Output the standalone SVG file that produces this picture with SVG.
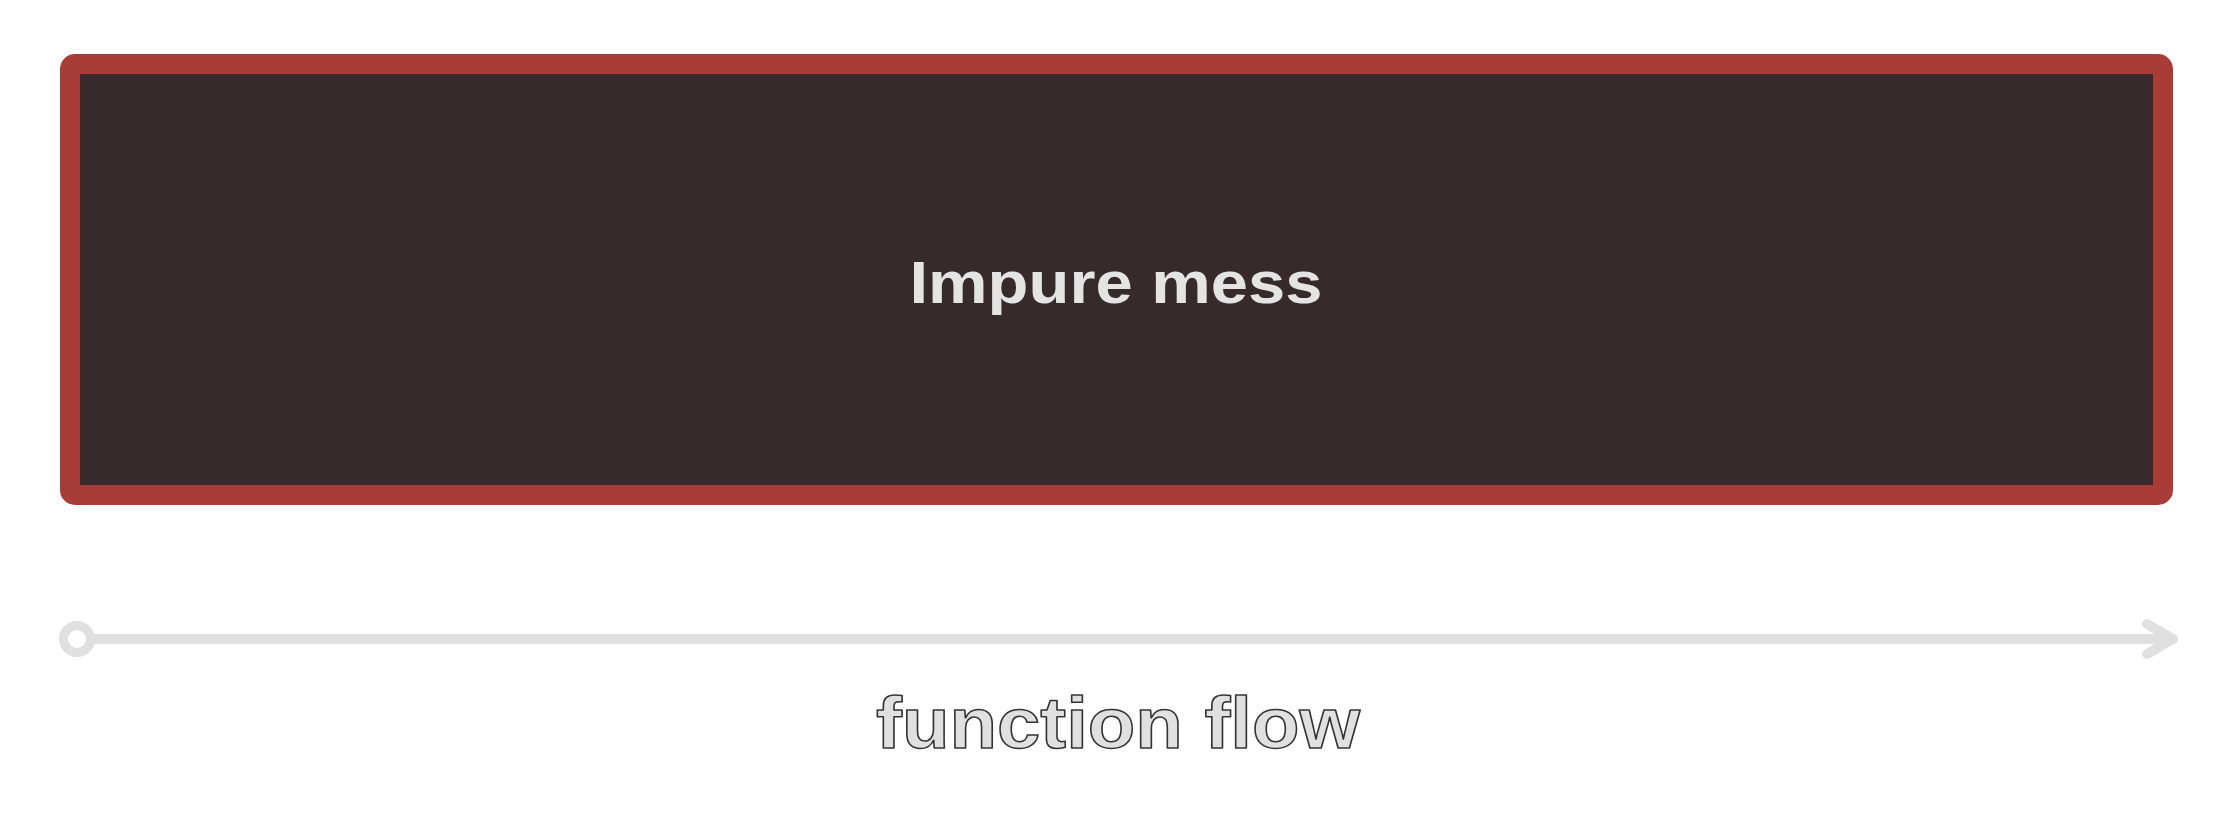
<svg xmlns="http://www.w3.org/2000/svg" width="2236" height="833" viewBox="0 0 2236 833">
<style>
.flow{stroke:#e0e0e0;stroke-width:10;fill:none;stroke-linecap:round;stroke-linejoin:round}
.lbl{font-family:"Comic Sans MS","Liberation Sans","DejaVu Sans",sans-serif;font-weight:bold;text-anchor:middle}
</style>
<rect width="2236" height="833" fill="#ffffff"/>
<g id="impure-mess">
<rect x="70" y="64" width="2093" height="431" rx="5" fill="#372a2c" stroke="#a93c39" stroke-width="20"/>
<text class="lbl" x="1116" y="303" font-size="60" fill="#e4e4e4" textLength="413" lengthAdjust="spacingAndGlyphs">Impure mess</text>
</g>
<g id="connectors">
<circle cx="77" cy="639" r="13.5" fill="none" stroke="#e0e0e0" stroke-width="9"/>
<line class="flow" x1="91" y1="639" x2="2172" y2="639"/>
<polyline class="flow" points="2147,624 2173,639 2147,654"/>
</g>
<g id="function-flow">
<text class="lbl" x="1118" y="748" font-size="72" fill="#e0e0e0" stroke="#333333" stroke-width="1.5" stroke-linejoin="round" textLength="484" lengthAdjust="spacingAndGlyphs">function flow</text>
</g>
</svg>
